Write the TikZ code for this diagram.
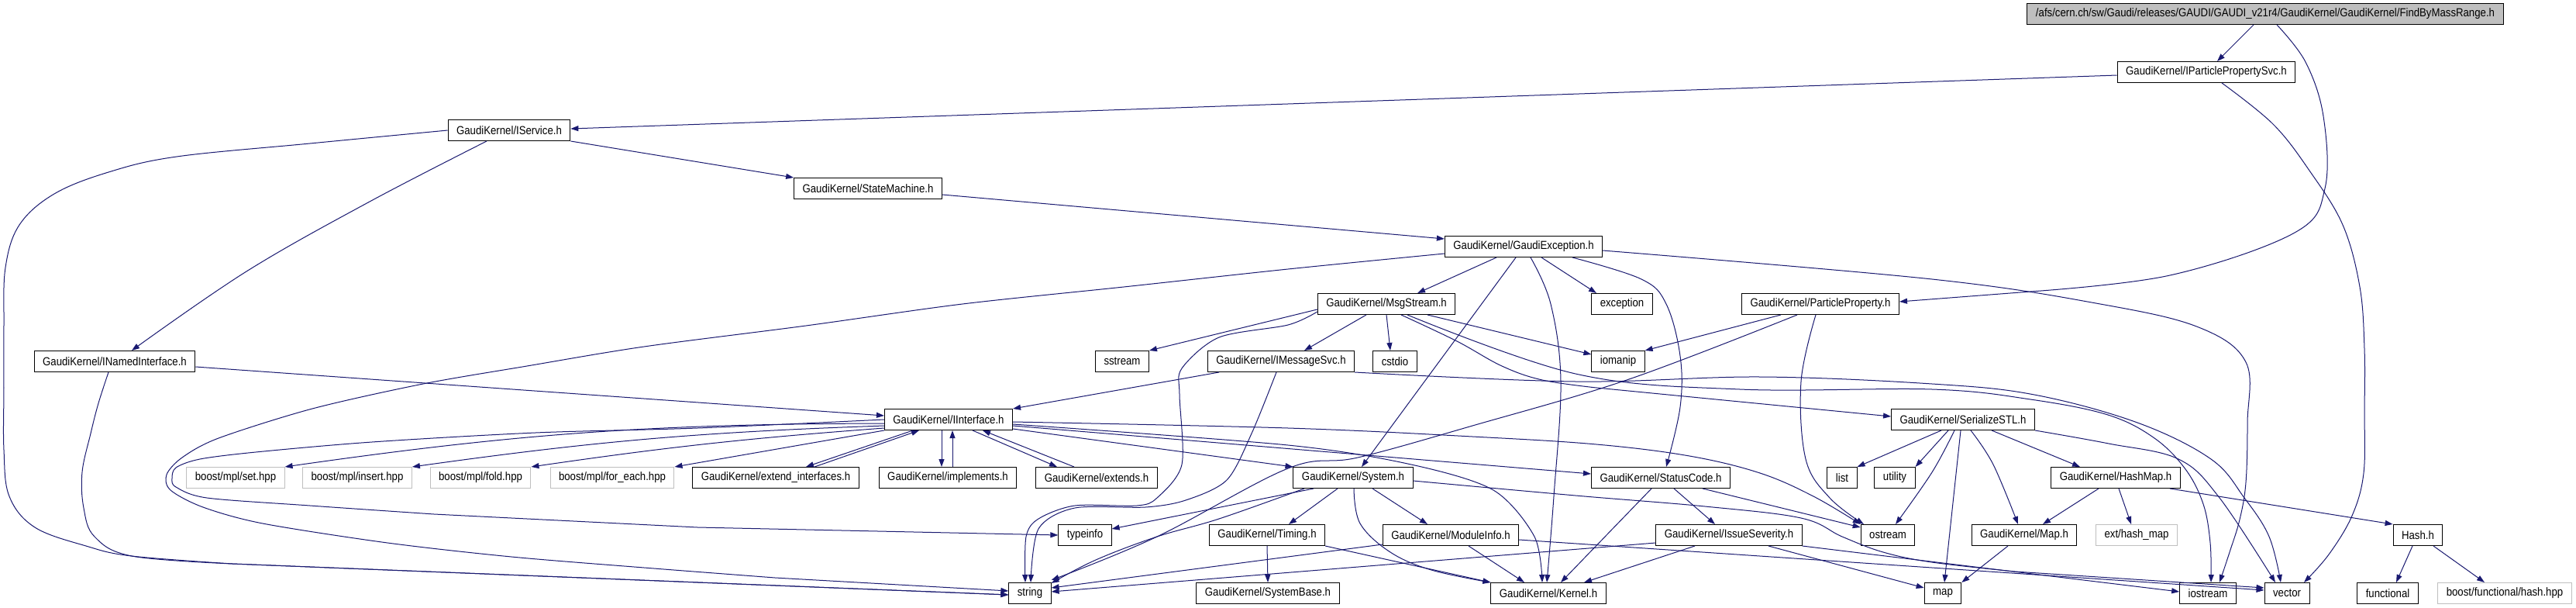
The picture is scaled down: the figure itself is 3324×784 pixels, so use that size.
\documentclass[tikz,border=0pt]{standalone}
\usepackage{fontspec}
\setmainfont{Liberation Sans}[FakeStretch=0.88]
\usetikzlibrary{arrows.meta}
\definecolor{edgeblue}{RGB}{25,25,112}
\definecolor{grey75}{RGB}{191,191,191}
\begin{document}
\begin{tikzpicture}[x=1pt, y=-1pt,
  incl/.style={draw=black, line width=1pt, fill=white, inner xsep=11pt, inner ysep=0pt,
    minimum height=27pt, font=\fontsize{15}{18}\selectfont},
  sysincl/.style={incl, draw=grey75},
  rootfile/.style={incl, fill=grey75},
  dep/.style={edgeblue, line width=1pt, -{Triangle[length=10pt,width=7pt]}}]

\useasboundingbox (0,0) rectangle (3324,784);

% Files
\node[rootfile] (root) at (2923,18) {/afs/cern.ch/sw/Gaudi/releases/GAUDI/GAUDI\_v21r4/GaudiKernel/GaudiKernel/FindByMassRange.h};
\node[incl] (ipps) at (2847,93) {GaudiKernel/IParticlePropertySvc.h};
\node[incl] (iserv) at (657,168) {GaudiKernel/IService.h};
\node[incl] (statem) at (1120,243) {GaudiKernel/StateMachine.h};
\node[incl] (gexc) at (1966,318) {GaudiKernel/GaudiException.h};
\node[incl] (msgs) at (1789,392) {GaudiKernel/MsgStream.h};
\node[incl] (exc) at (2093,392) {exception};
\node[incl] (ppro) at (2349,392) {GaudiKernel/ParticleProperty.h};
\node[incl] (inamed) at (148,466) {GaudiKernel/INamedInterface.h};
\node[incl] (sstr) at (1448,466) {sstream};
\node[incl] (imsg) at (1653,466) {GaudiKernel/IMessageSvc.h};
\node[incl] (cstd) at (1800,466) {cstdio};
\node[incl] (ioman) at (2088,466) {iomanip};
\node[incl] (iint) at (1224,541) {GaudiKernel/IInterface.h};
\node[incl] (sstl) at (2533,541) {GaudiKernel/SerializeSTL.h};
\node[sysincl] (bset) at (304,616) {boost/mpl/set.hpp};
\node[sysincl] (bins) at (461,616) {boost/mpl/insert.hpp};
\node[sysincl] (bfold) at (620,616) {boost/mpl/fold.hpp};
\node[sysincl] (bfor) at (790,616) {boost/mpl/for\_each.hpp};
\node[incl] (extif) at (1001,616) {GaudiKernel/extend\_interfaces.h};
\node[incl] (impl) at (1223,616) {GaudiKernel/implements.h};
\node[incl] (exts) at (1415,616) {GaudiKernel/extends.h};
\node[incl] (sys) at (1746,616) {GaudiKernel/System.h};
\node[incl] (stat) at (2143,616) {GaudiKernel/StatusCode.h};
\node[incl] (list) at (2377,616) {list};
\node[incl] (util) at (2445,616) {utility};
\node[incl] (hmap) at (2730,616) {GaudiKernel/HashMap.h};
\node[incl] (tinfo) at (1400,690) {typeinfo};
\node[incl] (timing) at (1635,690) {GaudiKernel/Timing.h};
\node[incl] (modinf) at (1872,690) {GaudiKernel/ModuleInfo.h};
\node[incl] (issue) at (2231,690) {GaudiKernel/IssueSeverity.h};
\node[incl] (ostr) at (2436,690) {ostream};
\node[incl] (mapf) at (2612,690) {GaudiKernel/Map.h};
\node[sysincl] (extmap) at (2757,690) {ext/hash\_map};
\node[incl] (hash) at (3120,690) {Hash.h};
\node[incl] (str) at (1329,765) {string};
\node[incl] (sysb) at (1636,765) {GaudiKernel/SystemBase.h};
\node[incl] (kern) at (1998,765) {GaudiKernel/Kernel.h};
\node[incl] (map) at (2507,765) {map};
\node[incl] (iostr) at (2849,765) {iostream};
\node[incl] (vec) at (2951,765) {vector};
\node[incl] (func) at (3081,765) {functional};
\node[sysincl] (bhash) at (3232,765) {boost/functional/hash.hpp};

% FindByMassRange.h
\draw[dep] (root.south -| 2908,0) -- (ipps.north -| 2861,0);
\draw[dep] plot[smooth, tension=0.6] coordinates {(root.south -| 2938,0) (2975,80) (2998,150) (3000,243) (2961,300) (2800,355) (2620,376)} -- (ppro.east |- 0,389);

% IParticlePropertySvc.h
\draw[dep] (ipps.west |- 0,97) -- (iserv.east |- 0,166);
\draw[dep] plot[smooth, tension=0.6] coordinates {(ipps.south -| 2867,0) (2933,160) (2980,220) (3023,290) (3045,370) (3051,450) (3051,530) (3050,610) (3035,665) (3005,715) (vec.north -| 2973,0)};

% IService.h
\draw[dep] (iserv.south east) -- (statem.north west);
\draw[dep] plot[smooth, tension=0.6] coordinates {(iserv.south -| 628,0) (477,260) (318,350) (inamed.north -| 170,0)};
\draw[dep] plot[smooth, tension=0.6] coordinates {(iserv.west) (400,185) (228,202) (140,222) (70,250) (25,290) (7,345) (5,420) (5,500) (5,580) (12,640) (45,680) (111,704) (170,717) (300,727)} -- (str.west |- 0,767);

% INamedInterface.h
\draw[dep] (inamed.east |- 0,473) -- (iint.west |- 0,536);
\draw[dep] plot[smooth, tension=0.6] coordinates {(inamed.south -| 140,0) (127,520) (117,559) (106,609) (108,655) (122,692) (170,717) (300,727)} -- (str.west |- 0,767);

% StateMachine.h
\draw[dep] (statem.east |- 0,251) -- (gexc.west |- 0,308);

% GaudiException.h
\draw[dep] (gexc.south -| 1931,0) -- (msgs.north -| 1829,0);
\draw[dep] (gexc.south -| 1989,0) -- (exc.north -| 2060,0);
\draw[dep] (gexc.south -| 1956,0) -- (sys.north -| 1757,0);
\draw[dep] plot[smooth, tension=0.6] coordinates {(gexc.south -| 1975,0) (2001,392) (2014,492) (2005,640) (kern.north -| 1996,0)};
\draw[dep] plot[smooth, tension=0.6] coordinates {(gexc.south -| 2029,0) (2118,360) (2150,392) (2168,459) (2168,525) (stat.north -| 2150,0)};
\draw[dep] plot[smooth, tension=0.5] coordinates {(gexc.west |- 0,327) (1662,347) (1450,370) (1242,392) (1040,420) (831,447) (680,472) (546,495) (403,527) (282,565) (235,590) (215,612) (220,632) (262,654) (339,675) (500,700) (660,718) (831,732) (1000,745)} -- (str.west |- 0,762);
\draw[dep] plot[smooth, tension=0.6] coordinates {(gexc.east |- 0,323) (2493,360) (2710,392) (2837,422) (2898,467) (2900,545) (2898,622) (2890,670) (2877,712) (iostr.north -| 2864,0)};

% IInterface.h
\foreach \tgt/\y/\b in {bset/546/4, bins/549/3, bfold/552/2}
  \draw[dep] (iint.west |- 0,\y) to[bend right=\b] (\tgt.north east);
\draw[dep] (iint.south west) -- (bfor.north east);
\draw[dep] plot[smooth, tension=0.5] coordinates {(iint.west |- 0,541) (900,552) (691,558) (480,570) (330,583) (258,592) (227,603) (222,617) (227,628) (267,642) (400,652) (560,663)} -- (900,680) -- (tinfo.west);
\draw[dep] (iint.south -| 1178,0) -- (extif.north -| 1040,0);
\draw[dep] (extif.north -| 1051,0) -- (iint.south -| 1186,0);
\draw[dep] (iint.south -| 1215,0) -- (impl.north -| 1215,0);
\draw[dep] (impl.north -| 1229,0) -- (iint.south -| 1229,0);
\draw[dep] (iint.south -| 1255,0) -- (exts.north -| 1364,0);
\draw[dep] (exts.north -| 1386,0) -- (iint.south -| 1268,0);
\draw[dep] (iint.east |- 0,553) -- (sys.north west);
\draw[dep] plot[smooth, tension=0.6] coordinates {(iint.east |- 0,544) (1662,552) (1900,563) (2060,573) (2180,588) (2271,610) (2340,640) (ostr.north west)};
\draw[dep] (iint.east |- 0,549) -- (stat.west |- 0,611);
\draw[dep] plot[smooth, tension=0.5] coordinates {(iint.east |- 0,547) (1662,574) (1821,599) (1927,632) (1980,692) (kern.north -| 1990,0)};

% MsgStream.h
\draw[dep] (msgs.west |- 0,399) -- (sstr.north east);
\draw[dep] plot[smooth, tension=0.5] coordinates {(msgs.west |- 0,402) (1662,419) (1573,435) (1525,475) (1522,509) (1525,599) (1493,642) (1467,652) (1387,652) (1340,669) (1324,692) (str.north -| 1323,0)};
\draw[dep] (msgs.south -| 1763,0) -- (imsg.north -| 1683,0);
\draw[dep] (msgs.south -| 1789,0) -- (cstd.north -| 1794,0);
\draw[dep] (msgs.south -| 1842,0) -- (ioman.west |- 0,457);
\draw[dep] plot[smooth, tension=0.6] coordinates {(msgs.south -| 1808,0) (1880,440) (1938,472) (1990,490) (2060,500)} -- (sstl.west |- 0,537);
\draw[dep] plot[smooth, tension=0.6] coordinates {(msgs.south -| 1816,0) (2033,482) (2245,502) (2493,502) (2620,515) (2720,535) (2780,565) (2820,605) (2843,650) (2852,700) (iostr.north -| 2853,0)};

% IMessageSvc.h
\draw[dep] (imsg.south -| 1573,0) -- (iint.north east);
\draw[dep] plot[smooth, tension=0.5] coordinates {(imsg.south -| 1647,0) (1615,559) (1583,619) (1530,645) (1478,654) (1387,655) (1340,682) (str.north -| 1330,0)};
\draw[dep] plot[smooth, tension=0.6] coordinates {(imsg.south east) (2033,492) (2271,486) (2493,495) (2625,509) (2758,545) (2853,592) (2896,642) (2928,692) (vec.north -| 2943,0)};

% ParticleProperty.h
\draw[dep] (ppro.south -| 2298,0) -- (ioman.north east);
\draw[dep] plot[smooth, tension=0.6] coordinates {(ppro.south -| 2319,0) (2102,489) (1900,549) (1752,590) (1662,604) (1493,692) (str.east |- 0,748)};
\draw[dep] plot[smooth, tension=0.6] coordinates {(ppro.south -| 2343,0) (2324,492) (2330,592) (2361,642) (ostr.north -| 2405,0)};

% System.h
\draw[dep] (sys.south -| 1695,0) -- (tinfo.east |- 0,682);
\draw[dep] plot[smooth, tension=0.6] coordinates {(sys.south -| 1683,0) (1573,669) (1493,692) (1414,722) (str.east |- 0,752)};
\draw[dep] (sys.south -| 1726,0) -- (timing.north -| 1663,0);
\draw[dep] (sys.south -| 1771,0) -- (modinf.north -| 1842,0);
\draw[dep] plot[smooth, tension=0.6] coordinates {(sys.south -| 1747,0) (1755,675) (1794,712) (1847,735) (kern.north west)};
\draw[dep] plot[smooth, tension=0.6] coordinates {(sys.east |- 0,620) (2033,639) (2200,653) (2324,668) (2377,692) (2430,712) (2493,725) (2600,737)} -- (vec.west |- 0,758);

% Timing.h
\draw[dep] (timing.south) -- (sysb.north);
\draw[dep] (timing.south east) -- (kern.north west);

% ModuleInfo.h
\draw[dep] (modinf.south -| 1895,0) -- (kern.north -| 1967,0);
\draw[dep] (modinf.west |- 0,702) -- (str.east |- 0,758);
\draw[dep] (modinf.east |- 0,696) -- (vec.west |- 0,761);

% StatusCode.h
\draw[dep] (stat.south -| 2131,0) -- (kern.north -| 2014,0);
\draw[dep] (stat.south -| 2160,0) -- (issue.north -| 2213,0);
\draw[dep] (stat.south -| 2197,0) -- (ostr.west |- 0,680);

% IssueSeverity.h
\draw[dep] (issue.south -| 2187,0) -- (kern.north -| 2044,0);
\draw[dep] (issue.west |- 0,700) -- (str.east |- 0,763);
\draw[dep] (issue.south -| 2282,0) -- (map.west |- 0,758);
\draw[dep] (issue.south east) -- (iostr.west |- 0,763);

% SerializeSTL.h
\draw[dep] (sstl.south -| 2505,0) -- (list.north east);
\draw[dep] (sstl.south -| 2514,0) -- (util.north east);
\draw[dep] plot[smooth, tension=0.6] coordinates {(sstl.south -| 2522,0) (2493,609) (ostr.north -| 2446,0)};
\draw[dep] (sstl.south -| 2530,0) -- (map.north -| 2509,0);
\draw[dep] plot[smooth, tension=0.6] coordinates {(sstl.south -| 2543,0) (2572,599) (mapf.north -| 2604,0)};
\draw[dep] (sstl.south -| 2570,0) -- (hmap.north -| 2684,0);
\draw[dep] plot[smooth, tension=0.6] coordinates {(sstl.south east) (2721,572) (2811,592) (2864,642) (vec.north -| 2936,0)};

% HashMap.h, Map.h, Hash.h
\draw[dep] (hmap.south -| 2708,0) -- (mapf.north -| 2636,0);
\draw[dep] (hmap.south -| 2734,0) -- (extmap.north -| 2750,0);
\draw[dep] (hmap.south -| 2800,0) -- (hash.north west);
\draw[dep] (mapf.south -| 2591,0) -- (map.north east);
\draw[dep] (hash.south -| 3113,0) -- (func.north -| 3092,0);
\draw[dep] (hash.south -| 3140,0) -- (bhash.north -| 3206,0);

\end{tikzpicture}
\end{document}
